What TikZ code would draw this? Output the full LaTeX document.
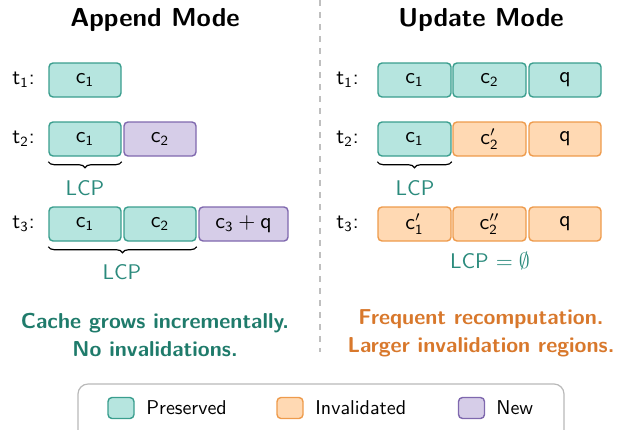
\documentclass[tikz,border=0pt]{standalone}
\usetikzlibrary{decorations.pathreplacing}
\definecolor{tealF}{HTML}{B6E5DF}
\definecolor{tealD}{HTML}{3A9E8E}
\definecolor{oranF}{HTML}{FFD9B3}
\definecolor{oranD}{HTML}{EE9B4C}
\definecolor{purpF}{HTML}{D6CDE8}
\definecolor{purpD}{HTML}{7F68AE}
\definecolor{tealT}{HTML}{2A8A7C}
\definecolor{tealB}{HTML}{1F7B6B}
\definecolor{oranT}{HTML}{D8782C}
\begin{document}
\begin{tikzpicture}[x=0.5pt,y=-0.5pt,font=\sffamily,
  cell/.style={rounded corners=2pt,line width=0.7pt,minimum height=17pt,inner sep=0pt,anchor=center,font=\sffamily\fontsize{10.5}{12}\selectfont},
  pres/.style={cell,fill=tealF,draw=tealD},
  inval/.style={cell,fill=oranF,draw=oranD},
  newc/.style={cell,fill=purpF,draw=purpD},
  tlab/.style={anchor=east,inner sep=0pt,font=\sffamily\fontsize{10.5}{12}\selectfont},
  lcp/.style={text=tealT,inner sep=0pt,font=\sffamily\fontsize{10.6}{12}\selectfont},
  brc/.style={decorate,decoration={brace,amplitude=3pt},line width=0.6pt},
  title/.style={font=\sffamily\bfseries\fontsize{13}{15}\selectfont},
  bottom/.style={font=\sffamily\bfseries\fontsize{10.8}{13}\selectfont,align=center,inner sep=0pt},
  swatch/.style={rounded corners=2pt,line width=0.7pt,minimum width=13pt,minimum height=10.5pt,inner sep=0pt}]
\useasboundingbox (0,0) rectangle (619,429);
\clip (0,0) rectangle (619,429);
% divider
\draw[gray!50,dashed,line width=0.6pt] (320,0) -- (320,352);
% titles
\node[title] (ta) at (155,20) {Append Mode};
\node[title] (tu) at (481,20) {Update Mode};
% Append mode
\node[tlab] (a1) at (35,80) {$\mathsf{t}_{\mathsf{1}}$:};
\node[pres,minimum width=36pt] (a11) at (85,80) {$\mathsf{c}_{\mathsf{1}}$};
\node[tlab] (a2) at (35,139) {$\mathsf{t}_{\mathsf{2}}$:};
\node[pres,minimum width=36pt] (a21) at (85,139) {$\mathsf{c}_{\mathsf{1}}$};
\node[newc,minimum width=36pt] (a22) at (160,139) {$\mathsf{c}_{\mathsf{2}}$};
\draw[brc] ([yshift=-2.5pt]a21.south east) -- ([yshift=-2.5pt]a21.south west);
\node[lcp] (al2) at (85,188) {LCP};
\node[tlab] (a3) at (35,224) {$\mathsf{t}_{\mathsf{3}}$:};
\node[pres,minimum width=36pt] (a31) at (85,224) {$\mathsf{c}_{\mathsf{1}}$};
\node[pres,minimum width=36pt] (a32) at (160,224) {$\mathsf{c}_{\mathsf{2}}$};
\node[newc,minimum width=44.5pt] (a33) at (243.5,224) {$\mathsf{c}_{\mathsf{3}}+\mathsf{q}$};
\draw[brc] ([yshift=-2.5pt]a32.south east) -- ([yshift=-2.5pt]a31.south west);
\node[lcp] (al3) at (122,272) {LCP};
\node[bottom,text=tealB] (ab) at (155,335) {Cache grows incrementally.\\[1pt] No invalidations.};
% Update mode
\node[tlab] (u1) at (359,80) {$\mathsf{t}_{\mathsf{1}}$:};
\node[pres,minimum width=36.5pt] (u11) at (414.5,80) {$\mathsf{c}_{\mathsf{1}}$};
\node[pres,minimum width=36.5pt] (u12) at (489.5,80) {$\mathsf{c}_{\mathsf{2}}$};
\node[pres,minimum width=36pt] (u13) at (565,80) {$\mathsf{q}$};
\node[tlab] (u2) at (359,139) {$\mathsf{t}_{\mathsf{2}}$:};
\node[pres,minimum width=36.5pt] (u21) at (414.5,139) {$\mathsf{c}_{\mathsf{1}}$};
\node[inval,minimum width=36.5pt] (u22) at (489.5,139) {$\mathsf{c}'_{\mathsf{2}}$};
\node[inval,minimum width=36pt] (u23) at (565,139) {$\mathsf{q}$};
\draw[brc] ([yshift=-2.5pt]u21.south east) -- ([yshift=-2.5pt]u21.south west);
\node[lcp] (ul2) at (415,188) {LCP};
\node[tlab] (u3) at (359,224) {$\mathsf{t}_{\mathsf{3}}$:};
\node[inval,minimum width=36.5pt] (u31) at (414.5,224) {$\mathsf{c}'_{\mathsf{1}}$};
\node[inval,minimum width=36.5pt] (u32) at (489.5,224) {$\mathsf{c}''_{\mathsf{2}}$};
\node[inval,minimum width=36pt] (u33) at (565,224) {$\mathsf{q}$};
\node[lcp] (ul3) at (490,261) {LCP $=\emptyset$};
\node[bottom,text=oranT] (ub) at (481,333) {Frequent recomputation.\\[1pt] Larger invalidation regions.};
% Legend
\draw[gray!55,line width=0.6pt,rounded corners=5pt] (78,384) rectangle (564,450);
\node[swatch,fill=tealF,draw=tealD] (s1) at (121,408) {};
\node[anchor=west,inner sep=0pt] (l1) at (146,408) {Preserved};
\node[swatch,fill=oranF,draw=oranD] (s2) at (290,408) {};
\node[anchor=west,inner sep=0pt] (l2) at (315,408) {Invalidated};
\node[swatch,fill=purpF,draw=purpD] (s3) at (471.5,408) {};
\node[anchor=west,inner sep=0pt] (l3) at (496,408) {New};
\end{tikzpicture}
\end{document}
